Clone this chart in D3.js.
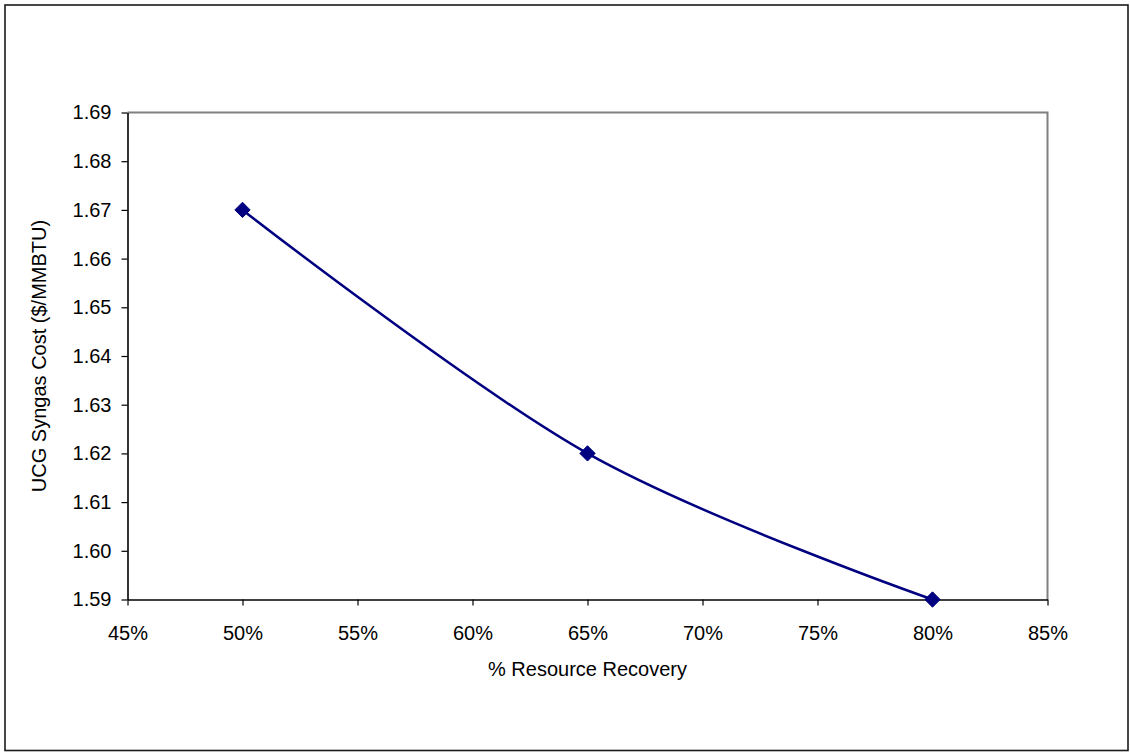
<!DOCTYPE html>
<html>
<head>
<meta charset="utf-8">
<script src="https://cdn.jsdelivr.net/npm/d3@7"></script>
<style>
html,body{margin:0;padding:0;background:#fff;}
svg{display:block;}
text{font-family:Arial,"Liberation Sans",sans-serif;fill:#000;}
</style>
</head>
<body>
<svg id="chart" width="1130" height="752"></svg>
<script>
const recovery = [0.50, 0.65, 0.80];
const cost = [1.67, 1.62, 1.59];
const xTicks = [0.45, 0.50, 0.55, 0.60, 0.65, 0.70, 0.75, 0.80, 0.85];
const yTicks = [1.59, 1.60, 1.61, 1.62, 1.63, 1.64, 1.65, 1.66, 1.67, 1.68, 1.69];
const xTitle = "% Resource Recovery";
const yTitle = "UCG Syngas Cost ($/MMBTU)";

const svg = d3.select("#chart");
const plot = {left: 127.5, right: 1047.5, top: 112.5, bottom: 599.5};

// outer border
svg.append("rect").attr("x", 5).attr("y", 5).attr("width", 1123).attr("height", 745.5)
  .attr("fill", "#fff").attr("stroke", "#1a1a1a").attr("stroke-width", 1.6);

const x = d3.scaleLinear().domain([0.45, 0.85]).range([plot.left, plot.right]);
const y = d3.scaleLinear().domain([1.59, 1.69]).range([plot.bottom, plot.top]);

// plot area border (top/right gray)
svg.append("path")
  .attr("d", `M${plot.left},${plot.top}H${plot.right}V${plot.bottom}`)
  .attr("fill", "none").attr("stroke", "#808080").attr("stroke-width", 2);

// axes
const xAxis = d3.axisBottom(x).tickValues(xTicks).tickFormat(d3.format(".0%")).tickSizeInner(6).tickSizeOuter(0).tickPadding(20);
const yAxis = d3.axisLeft(y).tickValues(yTicks).tickFormat(d3.format(".2f")).tickSizeInner(6).tickSizeOuter(0).tickPadding(10);

const gx = svg.append("g").attr("transform", `translate(0,${plot.bottom})`).call(xAxis);
const gy = svg.append("g").attr("transform", `translate(${plot.left},0)`).call(yAxis);
[gx, gy].forEach(g => {
  g.select(".domain").attr("stroke", "#000").attr("stroke-width", 1.6);
  g.selectAll(".tick line").attr("stroke", "#000").attr("stroke-width", 1.2);
  g.selectAll(".tick text").style("font-family", "Arial, 'Liberation Sans', sans-serif")
    .style("font-size", "20px").attr("fill", "#000");
});

// titles
svg.append("text").attr("x", (plot.left + plot.right) / 2).attr("y", 671)
  .attr("text-anchor", "middle").attr("dominant-baseline", "middle")
  .style("font-size", "20px").text(xTitle);
svg.append("text")
  .attr("transform", `translate(41,${(plot.top + plot.bottom) / 2}) rotate(-90)`)
  .attr("text-anchor", "middle").attr("dominant-baseline", "middle")
  .style("font-size", "20px").text(yTitle);

// line
const pts = recovery.map((r, i) => [r, cost[i]]);
const line = d3.line().x(d => x(d[0])).y(d => y(d[1])).curve(d3.curveCardinal.tension(0));
svg.append("path").datum(pts).attr("d", line)
  .attr("fill", "none").attr("stroke", "#000080").attr("stroke-width", 2.5);

// markers
svg.selectAll(".mk").data(pts).join("path").attr("class", "mk")
  .attr("transform", d => `translate(${x(d[0])},${y(d[1])})`)
  .attr("d", d3.symbol().type(d3.symbolDiamond2).size(150))
  .attr("fill", "#000080").attr("stroke", "#000080").attr("stroke-width", 1);
</script>
</body>
</html>
